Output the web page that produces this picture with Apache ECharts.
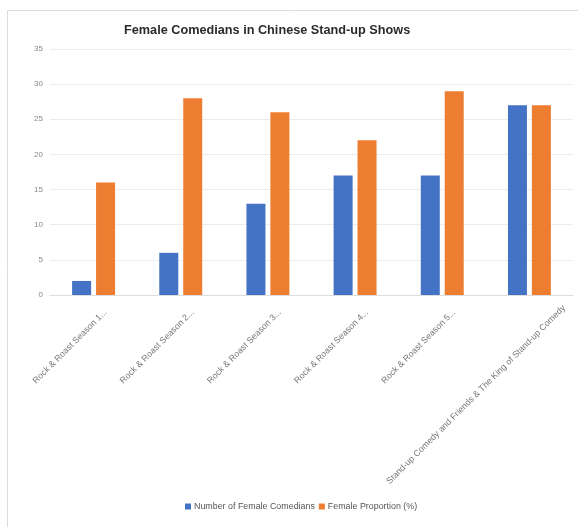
<!DOCTYPE html>
<html>
<head>
<meta charset="utf-8">
<title>Female Comedians in Chinese Stand-up Shows</title>
<script src="https://cdn.jsdelivr.net/npm/echarts@6/dist/echarts.min.js"></script>
<style>
  html, body { margin: 0; padding: 0; background: #fff; }
  #chart { width: 578px; height: 527px; }
</style>
</head>
<body>
<div id="chart"></div>
<script>
// data
var shows = [
  'Rock & Roast Season 1...',
  'Rock & Roast Season 2...',
  'Rock & Roast Season 3...',
  'Rock & Roast Season 4...',
  'Rock & Roast Season 5...',
  'Stand-up Comedy and Friends & The King of Stand-up Comedy'
];
var femaleCount = [2, 6, 13, 17, 17, 27];
var femaleShare = [16, 28, 26, 22, 29, 27];

var lastShow = shows.length - 1;
// the last (long) label sits lower and further right in the picture
var showLabels = shows.map(function (name, i) {
  if (i === lastShow) {
    return { value: name, textStyle: { padding: [0, -36, 0, 0], lineHeight: 26 } };
  }
  return name;
});

var myChart = echarts.init(document.getElementById('chart'));
myChart.setOption({
  animation: false,
  textStyle: { fontFamily: 'Liberation Sans, Arial, sans-serif' },
  color: ['#4472c4', '#ed7d31'],
  title: {
    text: 'Female Comedians in Chinese Stand-up Shows',
    left: 119,
    top: 19,
    textStyle: { fontSize: 12.7, fontWeight: 'bold', color: '#2b2b2b' }
  },
  // light frame round the chart, as in the picture
  graphic: [
    { type: 'line', shape: { x1: 7.5, y1: 10, x2: 7.5, y2: 527 }, style: { stroke: '#dcdcdc', lineWidth: 1 } },
    { type: 'line', shape: { x1: 7, y1: 10.5, x2: 578, y2: 10.5 }, style: { stroke: '#dcdcdc', lineWidth: 1 } }
  ],
  legend: {
    bottom: 11,
    left: 180,
    icon: 'rect',
    itemWidth: 6,
    itemHeight: 6,
    itemGap: 4,
    textStyle: { fontSize: 8.9, color: '#555', padding: [0, 0, 0, -2] }
  },
  grid: { left: 50, right: 5, top: 49, bottom: 232 },
  xAxis: {
    type: 'category',
    data: showLabels,
    axisLine: { lineStyle: { color: '#dddddd' } },
    axisTick: { show: false },
    axisLabel: {
      interval: 0,
      rotate: 45,
      fontSize: 8.8,
      color: '#777',
      margin: 28,
      padding: [0, -17, 0, 0],
      formatter: function (value, i) {
        return i === lastShow ? '\n' + value : value;
      }
    }
  },
  yAxis: {
    type: 'value',
    min: 0,
    max: 35,
    interval: 5,
    axisLine: { show: false },
    axisTick: { show: false },
    axisLabel: { fontSize: 8, color: '#888', margin: 7 },
    splitLine: { lineStyle: { color: '#ececec' } }
  },
  series: [
    {
      name: 'Number of Female Comedians',
      type: 'bar',
      data: femaleCount,
      barWidth: 19,
      barGap: '26%'
    },
    {
      name: 'Female Proportion (%)',
      type: 'bar',
      data: femaleShare,
      barWidth: 19
    }
  ]
});
</script>
</body>
</html>
